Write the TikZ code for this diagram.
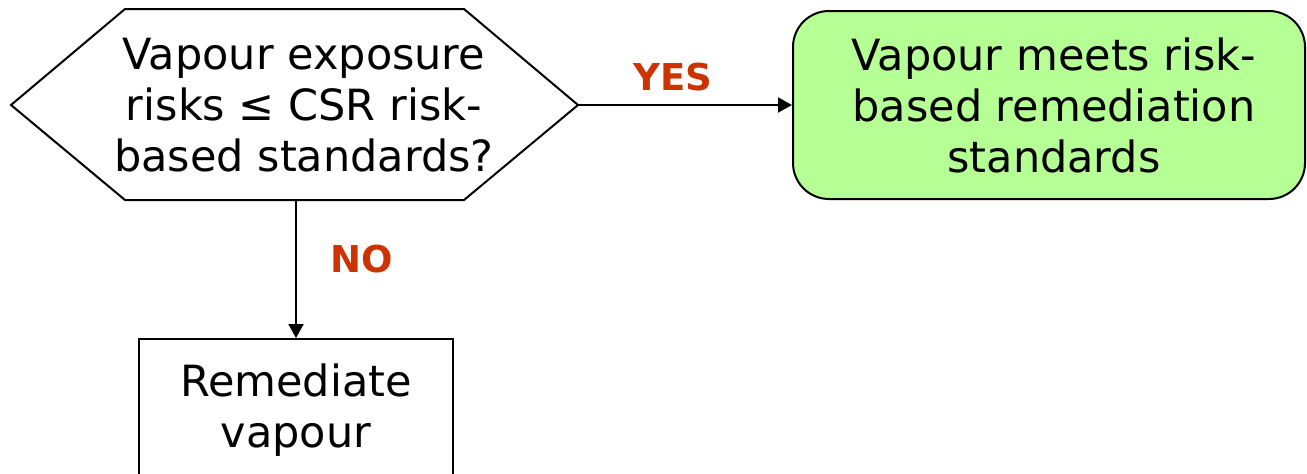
\documentclass[tikz,border=0pt]{standalone}
\usepackage{fontspec}
\setmainfont{DejaVu Sans}
\usetikzlibrary{arrows.meta}
\definecolor{lblred}{HTML}{CC3300}
\definecolor{okgreen}{HTML}{B6FF94}
\tikzset{
  shapeline/.style={draw=black, line width=1pt},
  bodytext/.style={align=center, font=\fontsize{21.5}{25.5}\selectfont, inner sep=0pt},
  flowarrow/.style={draw=black, line width=1pt, -{Triangle[length=7pt,width=7.5pt]}},
  answer/.style={text=lblred, font=\fontsize{18.5}{22}\selectfont\bfseries, inner sep=0pt}
}
\begin{document}
\begin{tikzpicture}[x=0.5pt, y=-0.5pt]
  \useasboundingbox (0,0) rectangle (1307,473);
  \clip (0,0) rectangle (1307,473);
  % decision hexagon
  \coordinate (qL) at (11,105);
  \coordinate (qR) at (578,105);
  \coordinate (qB) at (296,200);
  \draw[shapeline, fill=white] (qL) -- (125,9) -- (464,9) -- (qR) -- (464,200) -- (125,200) -- cycle;
  \node[bodytext] (q) at (304,105) {Vapour exposure\\risks ≤ CSR risk-\\based standards?};
  % green outcome
  \node[shapeline, fill=okgreen, rounded corners=18pt, minimum width=256pt, minimum height=94pt,
        draw] (ok) at (1049,105) {};
  \node[bodytext] (okt) at (1054,105) {Vapour meets risk-\\based remediation\\standards};
  % remediate box
  \node[shapeline, fill=white, minimum width=157pt, minimum height=75pt, anchor=north,
        draw] (rem) at (296,338) {};
  \node[bodytext] (remt) at (296,410) {Remediate\\vapour};
  % connectors
  \draw[flowarrow] (qR) -- (ok.west);
  \draw[flowarrow] (qB) -- (rem.north);
  \node[answer] (yes) at (673,77) {YES};
  \node[answer] (no) at (362,259) {NO};
\end{tikzpicture}
\end{document}
